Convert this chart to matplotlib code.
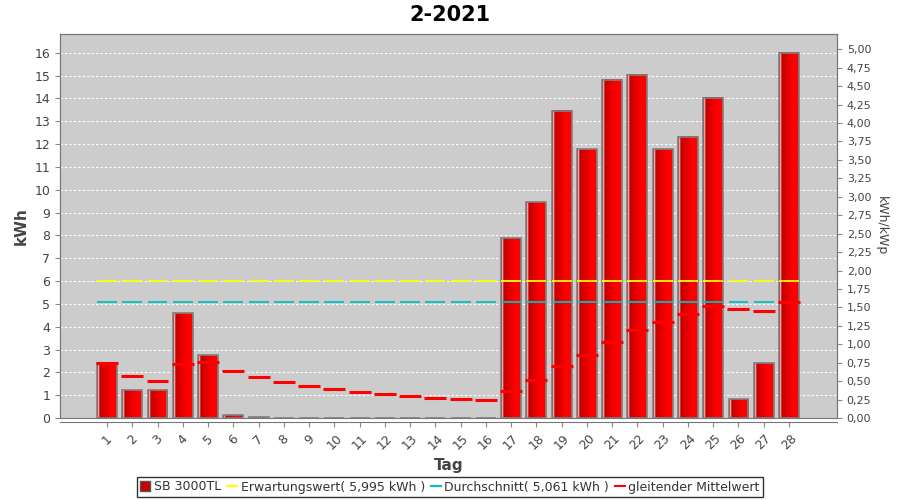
import numpy as np
import matplotlib
matplotlib.use("Agg")
import matplotlib.pyplot as plt
from matplotlib.ticker import FuncFormatter, MultipleLocator
from matplotlib.patches import Patch
from matplotlib.lines import Line2D

days = list(range(1, 29))
ertrag = [2.43, 1.21, 1.21, 4.59, 2.75, 0.12, 0.03, 0, 0, 0, 0, 0, 0, 0, 0, 0,
          7.88, 9.44, 13.45, 11.78, 14.81, 15.03, 11.78, 12.31, 14.02, 0.82, 2.40, 16.0]
gleitend = [2.43, 1.83, 1.61, 2.36, 2.46, 2.05, 1.79, 1.57, 1.39, 1.26, 1.13, 1.03,
            0.95, 0.88, 0.82, 0.77, 1.20, 1.65, 2.27, 2.75, 3.32, 3.85, 4.20, 4.54,
            4.90, 4.77, 4.68, 5.07]
erwartung = 5.995
durchschnitt = 5.061
kwp = 3.23

title = "2-2021"
grey_txt = "#444444"

fig = plt.figure(figsize=(9, 5), dpi=100)
ax = fig.add_axes([60/900, 1-418/500, 777/900, 384/500])
ax2 = ax.twinx()
ax.set_facecolor("#cccccc")

w = 0.79
# farbverlauf fuer die balken
n = 64
f = np.linspace(0, 1, n)
dark = np.array([0.75, 0.0, 0.0])
bright = np.array([1.0, 0.0, 0.0])
grad = np.zeros((1, n, 3))
for i, t in enumerate(f):
    if t < 0.05:
        c = np.array([0.70, 0.0, 0.0])
    elif t < 0.11:
        c = np.array([1.0, 0.95, 0.95])
    elif t < 0.7:
        c = dark + (bright - dark) * (t - 0.11) / 0.59
    else:
        c = bright
    grad[0, i] = c

bars = ax.bar(days, ertrag, width=w, facecolor="none", edgecolor="#808080",
              linewidth=1.2, zorder=4)
for b in bars:
    h = b.get_height()
    if h > 0:
        x0 = b.get_x()
        ax.imshow(grad, extent=[x0, x0 + w, 0, h], aspect="auto",
                  interpolation="bilinear", zorder=3)

for d in days:
    ax.hlines(erwartung, d - w/2, d + w/2, color="#ffff00", lw=1.3, zorder=5)
    ax.hlines(durchschnitt, d - w/2, d + w/2, color="#00c0c0", lw=1.3, zorder=5)
for d, g in zip(days, gleitend):
    ax.hlines(g, d - w/2 - 0.04, d + w/2 + 0.04, color="#ff0000", lw=2.2, zorder=6)

ax.set_xlim(-0.86, 29.9)
ytop = 16.82
ax.set_ylim(0, ytop)
ax.yaxis.set_major_locator(MultipleLocator(1))
ax.set_xticks(days)
ax.set_xticklabels([str(d) for d in days])
ax.tick_params(axis="x", labelrotation=45, labelsize=9, labelcolor=grey_txt,
               color="#888888")
for lab in ax.get_xticklabels():
    lab.set_ha("center")
ax.tick_params(axis="y", labelsize=9, labelcolor=grey_txt, color="#888888")
ax.grid(axis="y", color="white", linestyle=(0, (2, 2)), linewidth=0.8, zorder=1)
ax.set_axisbelow(True)
for s in ax.spines.values():
    s.set_color("#777777")
ax.spines["bottom"].set_position(("outward", 3))

ax.set_ylabel("kWh", fontsize=11, fontweight="bold", color=grey_txt)
ax.set_xlabel("Tag", fontsize=11, fontweight="bold", color=grey_txt, labelpad=4)

ax2.set_ylim(0, ytop / kwp)
ax2.yaxis.set_major_locator(MultipleLocator(0.25))
ax2.yaxis.set_major_formatter(FuncFormatter(lambda v, p: f"{v:.2f}".replace(".", ",")))
ax2.tick_params(axis="y", labelsize=8, labelcolor=grey_txt, color="#888888")
ax2.set_ylabel("kWh/kWp", fontsize=9, color=grey_txt, rotation=-90, labelpad=12)
for s in ax2.spines.values():
    s.set_color("#777777")

fig.suptitle(title, x=0.5, y=0.99, fontsize=15, fontweight="bold")

handles = [
    Patch(facecolor="#cc0000", edgecolor="#555555", label="SB 3000TL"),
    Line2D([], [], color="#ffff00", lw=1.5, label="Erwartungswert( 5,995 kWh )"),
    Line2D([], [], color="#00c0c0", lw=1.5, label="Durchschnitt( 5,061 kWh )"),
    Line2D([], [], color="#ff0000", lw=1.5, label="gleitender Mittelwert"),
]
leg = fig.legend(handles=handles, loc="center", bbox_to_anchor=(0.5, 0.026),
                 ncol=4, fontsize=9, frameon=True, fancybox=False,
                 handlelength=0.8, handleheight=0.8, handletextpad=0.3,
                 columnspacing=0.45, borderpad=0.25, borderaxespad=0.2)
leg.get_frame().set_edgecolor("black")
leg.get_frame().set_linewidth(1.0)
for t in leg.get_texts():
    t.set_color("#333333")

fig.savefig("out.png", dpi=100)
